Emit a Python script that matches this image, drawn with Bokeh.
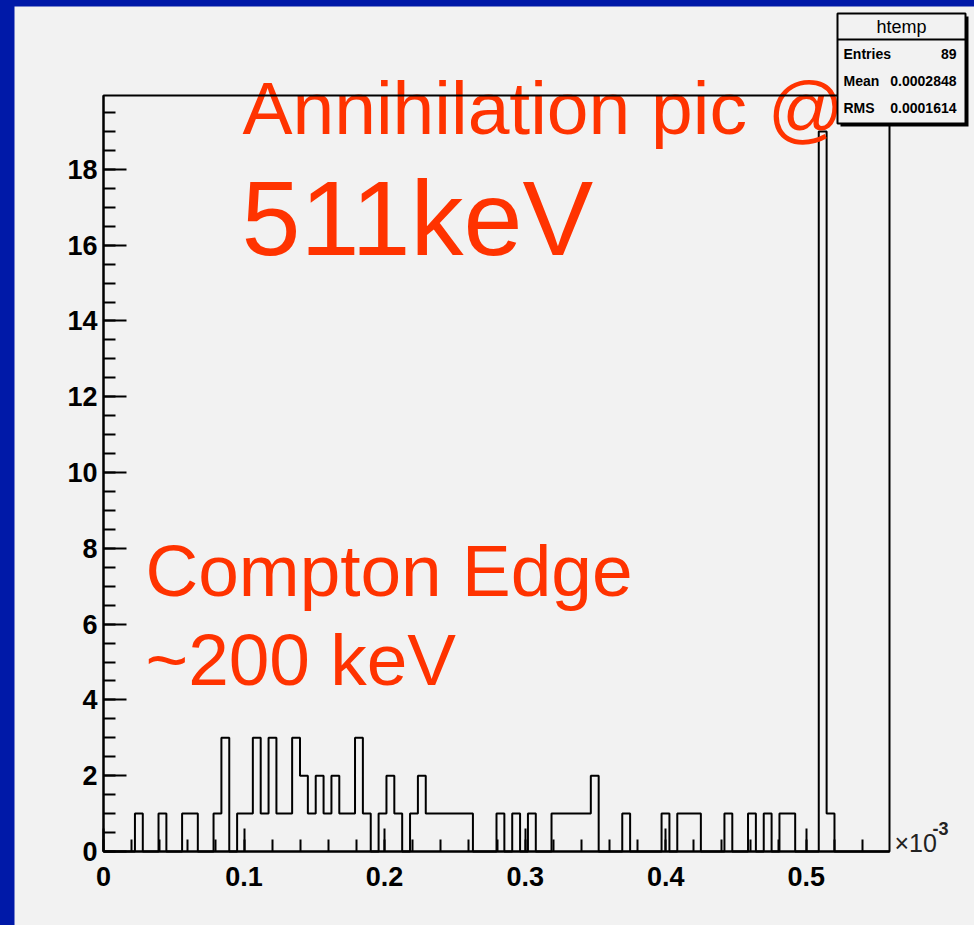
from bokeh.plotting import figure
from bokeh.models import (Label, BoxAnnotation, SingleIntervalTicker, Range1d,
                          NumeralTickFormatter)
from bokeh.layouts import column
from bokeh.embed import file_html
from bokeh.resources import INLINE

# ---------------- data ----------------
x_min = 0.0
x_max = 0.5592          # axis in units of 1e-3
n_bins = 100
counts = [
    0, 0, 0, 0, 1, 0, 0, 1, 0, 0,
    1, 1, 0, 0, 1, 3, 0, 1, 1, 3,
    1, 3, 1, 1, 3, 2, 1, 2, 1, 2,
    1, 1, 3, 1, 0, 1, 2, 1, 0, 1,
    2, 1, 1, 1, 1, 1, 1, 0, 0, 0,
    1, 0, 1, 0, 1, 0, 0, 1, 1, 1,
    1, 1, 2, 0, 0, 0, 1, 0, 0, 0,
    0, 1, 0, 1, 1, 1, 0, 0, 0, 1,
    0, 0, 1, 0, 1, 0, 1, 1, 0, 0,
    0, 19, 1, 0, 0, 0, 0, 0, 0, 0,
]
y_max = 19.95
x_tick_step = 0.1
y_tick_step = 2
x_exponent_base = "\u00d710"
x_exponent_power = "-3"
stats_title = "htemp"
stats_names = ["Entries", "Mean", "RMS"]
stats_values = ["89", "0.0002848", "0.0001614"]
note_lines = ["Annihilation pic @", "511keV", "Compton Edge", "~200 keV"]

# ---------------- style ----------------
BLUE = "#0019a8"
GREY = "#f2f2f2"
RED = "#ff3300"
AXIS_FONT = "Liberation Sans"
NOTE_FONT = "Liberation Sans"

# ROOT frame geometry (page pixels) used for placing decorations
FL, FR, FT, FB = 103.0, 889.0, 95.0, 851.0
PANEL_L, PANEL_T, PAGE_W, PAGE_H = 14, 6, 974, 925
BASE_SHIFT = 0.36   # Label baseline correction (fraction of font size)


def X(px):
    return x_min + (x_max - x_min) * (px - FL) / (FR - FL)


def Y(py):
    return y_max * (FB - py) / (FB - FT)


def add_text(p, px, base, text, size, font, color="black", align="left", style="normal"):
    p.add_layout(Label(x=X(px), y=Y(base - BASE_SHIFT * size), text=text,
                       text_font=font, text_font_size=f"{size}px",
                       text_font_style=style, text_color=color,
                       text_baseline="alphabetic", text_align=align))


bw = (x_max - x_min) / n_bins
edges = [x_min + i * bw for i in range(n_bins + 1)]

p = figure(width=PAGE_W - PANEL_L, height=PAGE_H - PANEL_T, title=None,
           x_range=Range1d(X(PANEL_L), X(PAGE_W)),
           y_range=Range1d(Y(PAGE_H), Y(PANEL_T)),
           output_backend="svg", toolbar_location=None,
           min_border=0, min_border_left=0, min_border_right=0,
           min_border_top=0, min_border_bottom=0,
           background_fill_color=GREY, border_fill_color=GREY,
           outline_line_color=None)
p.margin = (PANEL_T, 0, 0, PANEL_L)
p.xgrid.visible = False
p.ygrid.visible = False

p.xaxis.ticker = SingleIntervalTicker(interval=x_tick_step, num_minor_ticks=5)
p.yaxis.ticker = SingleIntervalTicker(interval=y_tick_step, num_minor_ticks=4)
p.xaxis.formatter = NumeralTickFormatter(format="0.[0]")
p.xaxis.fixed_location = 0
p.yaxis.fixed_location = 0
p.xaxis.bounds = (x_min, x_max)
p.yaxis.bounds = (0, y_max)

for ax in (p.xaxis[0], p.yaxis[0]):
    ax.axis_line_width = 2
    ax.axis_line_color = "black"
    ax.major_tick_line_width = 2
    ax.minor_tick_line_width = 2
    ax.major_tick_line_color = "black"
    ax.minor_tick_line_color = "black"
    ax.major_tick_out = 0
    ax.minor_tick_out = 0
    ax.major_tick_in = 23
    ax.minor_tick_in = 12
    ax.major_label_text_font = AXIS_FONT
    ax.major_label_text_font_style = "bold"
    ax.major_label_text_color = "black"
    ax.major_label_text_font_size = "27px"
p.yaxis.major_label_standoff = 6
p.xaxis.major_label_standoff = 15

# histogram outline
p.step(edges, counts + [0], mode="after", line_color="black", line_width=2)

# red annotations
note_specs = [(242, 134, 75), (241, 256, 106), (145, 596, 73), (145, 685, 73)]
for txt, (px, base, fs) in zip(note_lines, note_specs):
    add_text(p, px, base, txt, fs, NOTE_FONT, color=RED)

# ROOT frame box (drawn over the notes, as in the original)
p.add_layout(BoxAnnotation(left=x_min, right=x_max, bottom=0, top=y_max,
                           fill_color=None, line_color="black", line_width=2,
                           line_alpha=1.0))

# x10^-3 exponent
add_text(p, 894, 851, x_exponent_base, 25, AXIS_FONT, color="#222222")
add_text(p, 932, 834, x_exponent_power, 18, AXIS_FONT, color="#222222", style="bold")

# stats box (shadow, box, separator)
p.add_layout(BoxAnnotation(left=X(840), right=X(968), top=Y(16), bottom=Y(126),
                           fill_color="black", fill_alpha=1.0, line_color=None))
p.add_layout(BoxAnnotation(left=X(837), right=X(965), top=Y(13), bottom=Y(123),
                           fill_color=GREY, fill_alpha=1.0, line_color="black",
                           line_width=2, line_alpha=1.0))
p.add_layout(BoxAnnotation(left=X(837), right=X(965), top=Y(38), bottom=Y(40),
                           fill_color="black", fill_alpha=1.0, line_color=None))
add_text(p, 901, 33, stats_title, 18, AXIS_FONT, align="center")
for i, (nm, vl) in enumerate(zip(stats_names, stats_values)):
    base = 59 + 27 * i
    add_text(p, 843, base, nm, 14, AXIS_FONT, style="bold")
    add_text(p, 956, base, vl, 14, AXIS_FONT, align="right", style="bold")

layout = column(p, styles={"background-color": BLUE})
open("out.html", "w").write(file_html(layout, INLINE))
